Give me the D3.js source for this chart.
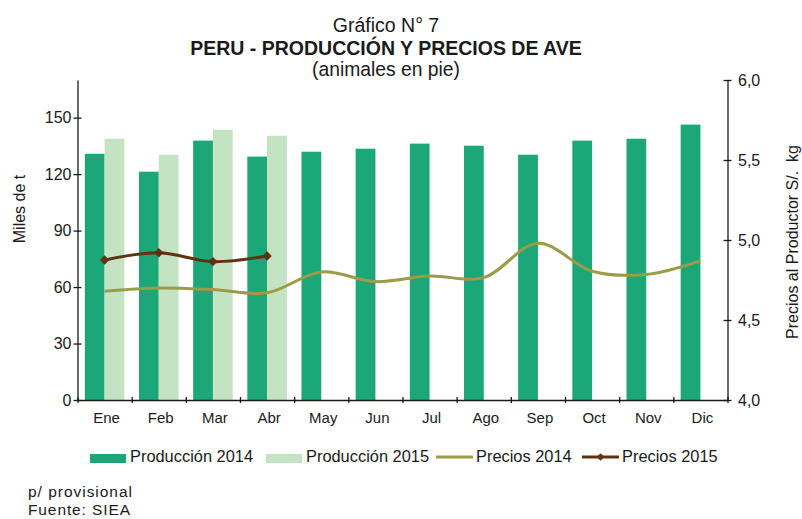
<!DOCTYPE html>
<html lang="es">
  <head>
    <meta charset="utf-8">
    <title>Gráfico N° 7</title>
    <script src="https://d3js.org/d3.v7.min.js"></script>
    <style>
      body { margin: 0; background: #fff; }
      svg { font-family: "Liberation Sans", Arial, sans-serif; }
      .axis path, .axis line { stroke: #1a1a1a; stroke-width: 1.3; }
      .axis text { fill: #1a1a1a; font-size: 16px; }
      .xLabels text { font-size: 15px; }
    </style>
  </head>
  <body>
    <div id="chart"></div>
    <script>
      var months = ["Ene", "Feb", "Mar", "Abr", "May", "Jun", "Jul", "Ago", "Sep", "Oct", "Nov", "Dic"];
      var prod2014 = [130.8, 121.3, 137.8, 129.3, 131.9, 133.5, 136.2, 135.1, 130.3, 137.8, 138.8, 146.3];
      var prod2015 = [138.8, 130.3, 143.6, 140.4];
      var precios2014 = [4.68, 4.70, 4.69, 4.67, 4.80, 4.74, 4.775, 4.765, 4.98, 4.805, 4.785, 4.87];
      var precios2015 = [4.875, 4.92, 4.865, 4.90];
      var leftTicks = [0, 30, 60, 90, 120, 150];
      var rightTicks = [4.0, 4.5, 5.0, 5.5, 6.0];
      var legendNames = ["Producción 2014", "Producción 2015", "Precios 2014", "Precios 2015"];

      var w = 802, h = 519;
      var plotL = 77.5, plotR = 727.5, plotT = 80, plotB = 400;
      var c2014 = "#1ba778", c2015 = "#c3e3c2", cp2014 = "#9a9c48", cp2015 = "#5f3212";

      var svg = d3.select("#chart").append("svg")
                  .attr("width", w).attr("height", h);

      svg.append("rect").attr("width", w).attr("height", h).attr("fill", "#fff");

      var x = d3.scaleBand().domain(months).range([plotL, plotR]);
      var xs = d3.scaleBand().domain(["2014", "2015"]).range([0, x.bandwidth()]).paddingOuter(0.37);
      var yL = d3.scaleLinear().domain([0, 170]).range([plotB, plotT]);
      var yR = d3.scaleLinear().domain([4, 6]).range([plotB, plotT]);
      var xEdge = d3.scaleLinear().domain([0, 12]).range([plotL, plotR]);

      // bars
      svg.append("g").selectAll("rect").data(prod2014).enter().append("rect")
          .attr("x", (d, i) => x(months[i]) + xs("2014"))
          .attr("y", d => yL(d))
          .attr("width", xs.bandwidth())
          .attr("height", d => plotB - yL(d))
          .attr("fill", c2014);

      svg.append("g").selectAll("rect").data(prod2015).enter().append("rect")
          .attr("x", (d, i) => x(months[i]) + xs("2015"))
          .attr("y", d => yL(d))
          .attr("width", xs.bandwidth())
          .attr("height", d => plotB - yL(d))
          .attr("fill", c2015);

      // price lines
      var line = d3.line()
          .x((d, i) => x(months[i]) + x.bandwidth() / 2)
          .y(d => yR(d))
          .curve(d3.curveCatmullRom.alpha(0.5));

      svg.append("path").attr("d", line(precios2014))
          .attr("fill", "none").attr("stroke", cp2014).attr("stroke-width", 3);

      svg.append("path").attr("d", line(precios2015))
          .attr("fill", "none").attr("stroke", cp2015).attr("stroke-width", 3);

      var diamond = d3.symbol(d3.symbolSquare, 44);
      svg.append("g").selectAll("path").data(precios2015).enter().append("path")
          .attr("d", diamond)
          .attr("transform", (d, i) => `translate(${x(months[i]) + x.bandwidth() / 2},${yR(d)}) rotate(45)`)
          .attr("fill", cp2015);

      // axes
      var gl = svg.append("g").attr("class", "axis")
          .attr("transform", `translate(${plotL},0)`)
          .call(d3.axisLeft(yL).tickValues(leftTicks).tickSize(4).tickSizeOuter(0).tickPadding(2));
      gl.selectAll(".tick line").attr("x1", 4);

      var commaFmt = d => d3.format(".1f")(d).replace(".", ",");
      var gr = svg.append("g").attr("class", "axis")
          .attr("transform", `translate(${plotR},0)`)
          .call(d3.axisRight(yR).tickValues(rightTicks).tickFormat(commaFmt).tickSize(4).tickSizeOuter(0).tickPadding(6.5));
      gr.selectAll(".tick line").attr("x1", -4);

      var gx = svg.append("g").attr("class", "axis")
          .attr("transform", `translate(0,${plotB})`)
          .call(d3.axisBottom(xEdge).tickValues(d3.range(13)).tickFormat("").tickSize(3).tickSizeOuter(0));
      gx.selectAll(".tick line").attr("y1", -3);

      var gxl = svg.append("g").attr("class", "axis xLabels")
          .attr("transform", `translate(0,${plotB})`)
          .call(d3.axisBottom(x).tickSize(0).tickPadding(12.3));
      gxl.select(".domain").remove();
      gxl.selectAll("text").attr("dx", 2);

      // axis titles
      svg.append("text").attr("transform", "translate(25,209) rotate(-90)")
          .attr("text-anchor", "middle").attr("font-size", 16).attr("fill", "#1a1a1a")
          .text("Miles de t");

      svg.append("text").attr("transform", "translate(798,242) rotate(-90)")
          .attr("text-anchor", "middle").attr("font-size", 16).attr("fill", "#1a1a1a")
          .attr("xml:space", "preserve")
          .text("Precios al Productor S/.  kg");

      // titles
      svg.append("text").attr("x", 386).attr("y", 32).attr("text-anchor", "middle")
          .attr("font-size", 19.5).attr("fill", "#1a1a1a").text("Gráfico N° 7");
      svg.append("text").attr("x", 386).attr("y", 55).attr("text-anchor", "middle")
          .attr("font-size", 19.5).attr("font-weight", "bold").attr("fill", "#1a1a1a")
          .text("PERU - PRODUCCIÓN Y PRECIOS DE AVE");
      svg.append("text").attr("x", 386).attr("y", 76).attr("text-anchor", "middle")
          .attr("font-size", 19.3).attr("fill", "#1a1a1a").text("(animales en pie)");

      // legend
      var legX = [90, 266, 436, 582];
      var leg = svg.append("g").attr("id", "legend");
      leg.append("rect").attr("x", legX[0]).attr("y", 454).attr("width", 36).attr("height", 9).attr("fill", c2014);
      leg.append("rect").attr("x", legX[1]).attr("y", 454).attr("width", 36).attr("height", 9).attr("fill", c2015);
      leg.append("line").attr("x1", legX[2]).attr("x2", legX[2] + 37).attr("y1", 457).attr("y2", 457)
          .attr("stroke", cp2014).attr("stroke-width", 3);
      leg.append("line").attr("x1", legX[3]).attr("x2", legX[3] + 37).attr("y1", 457).attr("y2", 457)
          .attr("stroke", cp2015).attr("stroke-width", 3);
      leg.append("path").attr("d", d3.symbol(d3.symbolSquare, 30))
          .attr("transform", `translate(${legX[3] + 18.5},457) rotate(45)`).attr("fill", cp2015);
      leg.selectAll("text").data(legendNames).enter().append("text")
          .attr("x", (d, i) => legX[i] + 40).attr("y", 462)
          .attr("font-size", 16.4).attr("fill", "#1a1a1a")
          .text(d => d);

      // footer
      svg.append("text").attr("x", 28).attr("y", 497).attr("font-size", 15.5).attr("fill", "#1a1a1a")
          .attr("textLength", 104).attr("lengthAdjust", "spacing").text("p/ provisional");
      svg.append("text").attr("x", 28).attr("y", 515).attr("font-size", 15.5).attr("fill", "#1a1a1a")
          .attr("textLength", 102).attr("lengthAdjust", "spacing").text("Fuente: SIEA");
    </script>
  </body>
</html>
